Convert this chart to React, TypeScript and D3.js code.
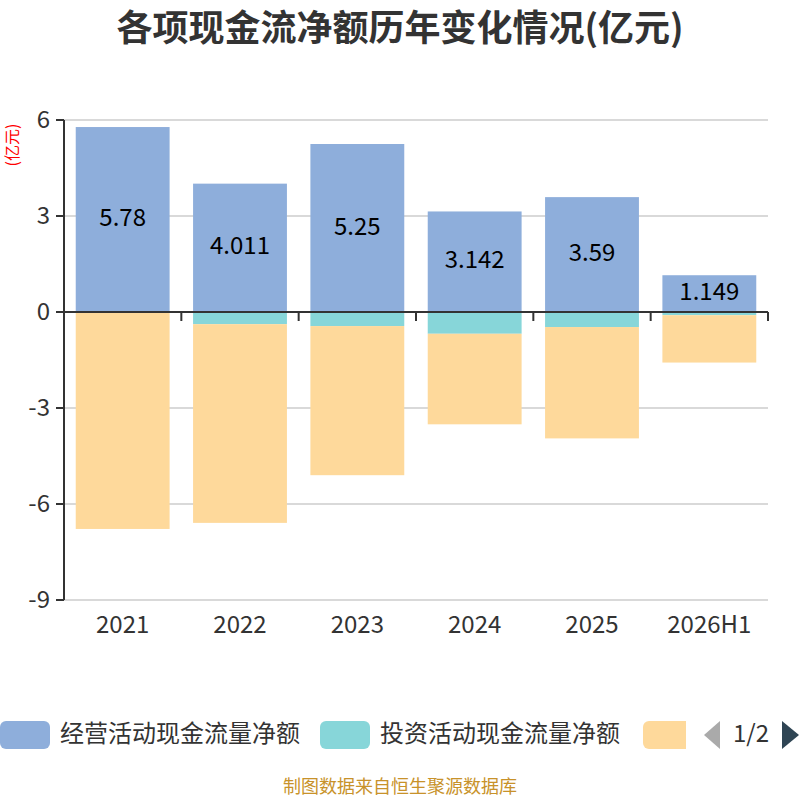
import React from 'react';
import * as d3 from 'd3';

const categories = ['2021', '2022', '2023', '2024', '2025', '2026H1'];
const seriesNames = ['经营活动现金流量净额', '投资活动现金流量净额', '筹资活动现金流量净额'];
const operating = [5.78, 4.011, 5.25, 3.142, 3.59, 1.149];
const investing = [0, -0.38, -0.44, -0.68, -0.47, -0.1];
const financing = [-6.78, -6.21, -4.66, -2.83, -3.48, -1.48];
const yTicks = [-9, -6, -3, 0, 3, 6];
const colors = ['#8eaedb', '#87d6d9', '#fed99b'];

const font = '"Noto Sans CJK SC", "Noto Sans", sans-serif';
// CJK font sits a bit low with "central", nudge text up
const lift = -3;

export default function App() {
  const width = 800;
  const height = 800;
  const margin = { top: 120, right: 32, bottom: 200, left: 64 };

  const x = d3
    .scaleBand()
    .domain(categories)
    .range([margin.left, width - margin.right])
    .paddingInner(0.2)
    .paddingOuter(0.1);

  const band = d3.scaleBand().domain(categories).range([margin.left, width - margin.right]);

  const y = d3.scaleLinear().domain([-9, 6]).range([height - margin.bottom, margin.top]);

  // stack positives up, negatives down
  const series = [operating, investing, financing];
  const rects: { key: string; x: number; y: number; w: number; h: number; fill: string }[] = [];
  categories.forEach((c, i) => {
    let pos = 0;
    let neg = 0;
    series.forEach((s, k) => {
      const v = s[i];
      if (v === 0) return;
      let y0: number;
      let y1: number;
      if (v > 0) {
        y0 = pos;
        y1 = pos + v;
        pos = y1;
      } else {
        y0 = neg;
        y1 = neg + v;
        neg = y1;
      }
      rects.push({
        key: c + k,
        x: x(c) || 0,
        y: y(Math.max(y0, y1)),
        w: x.bandwidth(),
        h: Math.abs(y(y0) - y(y1)),
        fill: colors[k],
      });
    });
  });

  // only the first two legend labels fit on page 1; the third shows its swatch only
  const legendItems = [
    { x: 0, textX: 60, label: true },
    { x: 320, textX: 380, label: true },
    { x: 643, textX: 703, label: false },
  ];

  return (
    <div style={{ position: 'absolute', left: 0, top: 0 }}>
      <svg width={width} height={height} style={{ fontFamily: font, display: 'block' }}>
        <rect width={width} height={height} fill="#fff" />
        <text
          x={400}
          y={25}
          textAnchor="middle"
          dominantBaseline="central"
          fontSize={36}
          fontWeight="bold"
          fill="#333"
        >
          各项现金流净额历年变化情况(亿元)
        </text>
        <text
          transform="translate(11,145) rotate(-90)"
          textAnchor="middle"
          fontSize={16}
          fill="#ff0000"
          dominantBaseline="central"
        >
          (亿元)
        </text>

        {/* grid lines */}
        {yTicks
          .filter((t) => t !== 0)
          .map((t) => (
            <line
              key={t}
              x1={margin.left}
              x2={width - margin.right}
              y1={y(t)}
              y2={y(t)}
              stroke="#ccc"
              strokeWidth={1.5}
            />
          ))}

        {/* bars */}
        {rects.map((r) => (
          <rect key={r.key} x={r.x} y={r.y} width={r.w} height={r.h} fill={r.fill} />
        ))}

        {/* y axis */}
        <line x1={margin.left} x2={margin.left} y1={y(6)} y2={y(-9)} stroke="#333" strokeWidth={2} />
        {yTicks.map((t) => (
          <g key={t}>
            <line x1={margin.left - 8} x2={margin.left} y1={y(t)} y2={y(t)} stroke="#333" strokeWidth={2} />
            <text
              x={margin.left - 14}
              y={y(t) + lift}
              textAnchor="end"
              dominantBaseline="central"
              fontSize={24}
              fill="#333"
            >
              {t}
            </text>
          </g>
        ))}

        {/* x axis at zero */}
        <line
          x1={margin.left}
          x2={width - margin.right}
          y1={y(0)}
          y2={y(0)}
          stroke="#333"
          strokeWidth={2}
        />
        {categories.map((c) => (
          <line
            key={c}
            x1={(band(c) || 0) + band.bandwidth()}
            x2={(band(c) || 0) + band.bandwidth()}
            y1={y(0)}
            y2={y(0) + 9}
            stroke="#333"
            strokeWidth={2}
          />
        ))}
        {categories.map((c) => (
          <text
            key={c}
            x={(x(c) || 0) + x.bandwidth() / 2}
            y={625 + lift}
            textAnchor="middle"
            dominantBaseline="central"
            fontSize={24}
            fill="#333"
          >
            {c}
          </text>
        ))}

        {/* value labels */}
        {categories.map((c, i) => (
          <text
            key={c}
            x={(x(c) || 0) + x.bandwidth() / 2}
            y={(y(operating[i]) + y(0)) / 2 + lift - 1}
            textAnchor="middle"
            dominantBaseline="central"
            fontSize={24}
            fill="#000"
          >
            {operating[i]}
          </text>
        ))}

        {/* legend */}
        <defs>
          <clipPath id="legendClip">
            <rect x={0} y={700} width={686} height={70} />
          </clipPath>
        </defs>
        <g clipPath="url(#legendClip)">
          {legendItems.map((it, k) => (
            <g key={k}>
              <rect x={it.x} y={721} width={50} height={28} rx={6} fill={colors[k]} />
              {it.label && (
                <text x={it.textX} y={734 + lift} dominantBaseline="central" fontSize={24} fill="#333">
                  {seriesNames[k]}
                </text>
              )}
            </g>
          ))}
        </g>
        <path d="M704,735 L720,721 L720,749 Z" fill="#aaa" />
        <text x={751} y={734 + lift} textAnchor="middle" dominantBaseline="central" fontSize={24} fill="#333">
          1/2
        </text>
        <path d="M782,721 L799,735 L782,749 Z" fill="#2f4554" />

        <text x={400} y={788 + lift} textAnchor="middle" dominantBaseline="central" fontSize={18} fill="#c8922a">
          制图数据来自恒生聚源数据库
        </text>
      </svg>
    </div>
  );
}
